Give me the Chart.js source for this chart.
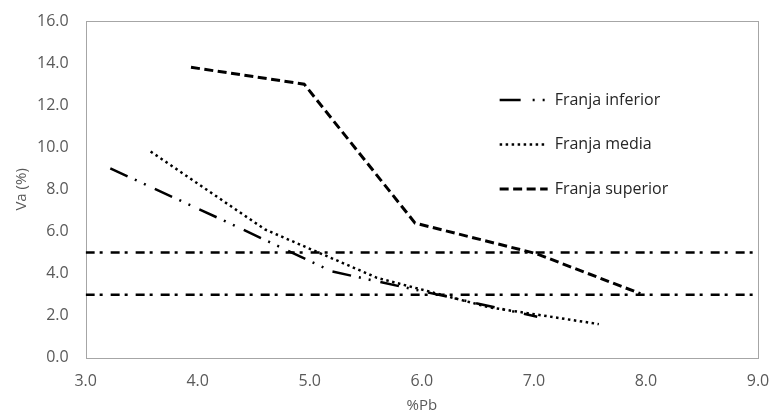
<!DOCTYPE html>
<html>
<head>
<meta charset="utf-8">
<script src="https://cdn.jsdelivr.net/npm/chart.js@4.4.1/dist/chart.umd.min.js"></script>
<style>
  html, body { margin: 0; padding: 0; background: #fff; }
  #wrap { width: 773px; height: 416px; }
</style>
</head>
<body>
<div id="wrap"><canvas id="vaChart" width="773" height="416"></canvas></div>
<script>
// values
const pbInferior = [3.22, 4.2, 5.2, 6.1, 7.03];
const vaInferior = [9.0, 6.6, 4.1, 3.05, 1.95];
const pbMedia = [3.58, 4.6, 5.6, 6.6, 7.58];
const vaMedia = [9.8, 6.1, 3.8, 2.4, 1.6];
const pbSuperior = [3.94, 4.95, 5.94, 7.02, 7.95];
const vaSuperior = [13.8, 13.0, 6.4, 4.95, 3.05];
const limitX = [3, 9];
const limitUpper = [5, 5];
const limitLower = [3, 3];
const xTicks = [3, 4, 5, 6, 7, 8, 9];
const yTicks = [0, 2, 4, 6, 8, 10, 12, 14, 16];

const toPoints = (xs, ys) => xs.map((x, i) => ({ x: x, y: ys[i] }));
const FONT = "'Open Sans', 'Noto Sans', sans-serif";

// gray frame around the plot area
const framePlugin = {
  id: 'frame',
  beforeDatasetsDraw(chart) {
    const a = chart.chartArea;
    const c = chart.ctx;
    c.save();
    c.strokeStyle = '#a6a6a6';
    c.lineWidth = 1;
    c.strokeRect(Math.round(a.left) + 0.5, Math.round(a.top) + 0.5,
      Math.round(a.right - a.left), Math.round(a.bottom - a.top));
    c.restore();
  }
};

// legend drawn inside the plot, entries stacked vertically
const legendPlugin = {
  id: 'insideLegend',
  afterDatasetsDraw(chart) {
    const a = chart.chartArea;
    const c = chart.ctx;
    let y = a.top + 79;
    chart.data.datasets.forEach(ds => {
      if (!ds.inLegend) return;
      const x0 = a.left + 414;
      c.save();
      c.strokeStyle = ds.borderColor;
      c.lineWidth = ds.borderWidth;
      c.setLineDash(ds.legendDash || ds.borderDash || []);
      c.beginPath();
      c.moveTo(x0, y);
      c.lineTo(x0 + 48, y);
      c.stroke();
      c.setLineDash([]);
      c.fillStyle = '#262626';
      c.font = '16px ' + FONT;
      c.textBaseline = 'middle';
      c.fillText(ds.label, x0 + 55, y);
      c.restore();
      y += 44.5;
    });
  }
};

// the tick padding also pushes the plot inwards; undo that
const noEdgePadding = scale => {
  scale.paddingTop = 0;
  scale.paddingBottom = 0;
  scale.paddingLeft = 0;
  scale.paddingRight = 0;
};

const ctx = document.getElementById('vaChart').getContext('2d');

const vaChart = new Chart(ctx, {
  type: 'scatter',
  data: {
    datasets: [
      {
        label: 'Franja inferior',
        data: toPoints(pbInferior, vaInferior),
        showLine: true,
        borderColor: '#000000',
        borderWidth: 2.5,
        borderDash: [19, 8, 2, 8, 2, 10],
        legendDash: [21, 12, 2, 8, 2, 40],
        pointRadius: 0,
        inLegend: true
      },
      {
        label: 'Franja media',
        data: toPoints(pbMedia, vaMedia),
        showLine: true,
        borderColor: '#000000',
        borderWidth: 2.5,
        borderDash: [2.5, 3.5],
        pointRadius: 0,
        inLegend: true
      },
      {
        label: 'Franja superior',
        data: toPoints(pbSuperior, vaSuperior),
        showLine: true,
        borderColor: '#000000',
        borderWidth: 3,
        borderDash: [9, 4.5],
        pointRadius: 0,
        inLegend: true
      },
      {
        label: 'Límite 5%',
        data: toPoints(limitX, limitUpper),
        showLine: true,
        borderColor: '#000000',
        borderWidth: 2.5,
        borderDash: [9, 5, 3, 8],
        pointRadius: 0
      },
      {
        label: 'Límite 3%',
        data: toPoints(limitX, limitLower),
        showLine: true,
        borderColor: '#000000',
        borderWidth: 2.5,
        borderDash: [9, 5, 3, 8],
        pointRadius: 0
      }
    ]
  },
  options: {
    responsive: false,
    animation: false,
    layout: { padding: { top: 21, right: 15, left: 10, bottom: 1 } },
    plugins: {
      legend: { display: false },
      tooltip: { enabled: false }
    },
    scales: {
      x: {
        type: 'linear',
        min: 3,
        max: 9,
        afterBuildTicks: axis => { axis.ticks = xTicks.map(v => ({ value: v })); },
        afterFit: noEdgePadding,
        grid: { display: false, drawTicks: false },
        border: { display: false },
        ticks: {
          color: '#595959',
          padding: 14,
          font: { family: FONT, size: 16 },
          callback: v => v.toFixed(1)
        },
        title: {
          display: true,
          text: '%Pb',
          color: '#595959',
          font: { family: FONT, size: 15 },
          padding: { top: -8, bottom: 0 }
        }
      },
      y: {
        type: 'linear',
        min: 0,
        max: 16,
        afterBuildTicks: axis => { axis.ticks = yTicks.map(v => ({ value: v })); },
        afterFit: noEdgePadding,
        grid: { display: false, drawTicks: false },
        border: { display: false },
        ticks: {
          color: '#595959',
          padding: 17,
          font: { family: FONT, size: 16 },
          callback: v => v.toFixed(1)
        },
        title: {
          display: true,
          text: 'Va (%)',
          color: '#595959',
          font: { family: FONT, size: 15 },
          padding: { top: 3, bottom: -11 }
        }
      }
    }
  },
  plugins: [framePlugin, legendPlugin]
});
</script>
</body>
</html>
